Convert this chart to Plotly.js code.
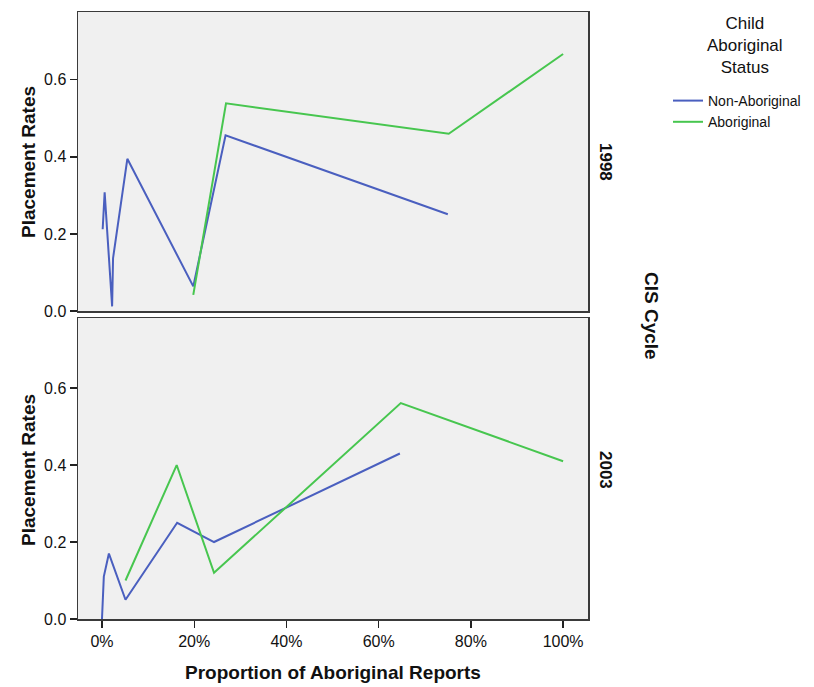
<!DOCTYPE html>
<html>
<head>
<meta charset="utf-8">
<script src="https://cdn.plot.ly/plotly-3.0.1.min.js"></script>
<style>html,body{margin:0;padding:0;background:#fff;}#chart{width:814px;height:687px;}</style>
</head>
<body>
<div id="chart"></div>
<script>
// Data (x in % of Aboriginal reports)
const seriesNames = ["Non-Aboriginal", "Aboriginal"];
const x1998NonAboriginal = [0.15, 0.58, 2.2, 2.4, 5.5, 19.8, 26.8, 75];
const y1998NonAboriginal = [0.212, 0.308, 0.012, 0.137, 0.395, 0.064, 0.456, 0.251];
const x1998Aboriginal = [19.8, 26.9, 75.2, 100];
const y1998Aboriginal = [0.042, 0.539, 0.46, 0.667];
const x2003NonAboriginal = [0, 0.4, 1.5, 5.1, 16.3, 24.3, 64.6];
const y2003NonAboriginal = [0, 0.11, 0.17, 0.05, 0.25, 0.20, 0.43];
const x2003Aboriginal = [5.1, 16.2, 24.3, 64.8, 100];
const y2003Aboriginal = [0.10, 0.40, 0.12, 0.561, 0.41];
const xTicks = [0, 20, 40, 60, 80, 100];
const yTicks = [0, 0.2, 0.4, 0.6];
const cycles = ["1998", "2003"];

const blue = "#4a5fbf";
const green = "#47c64f";
const W = 814, H = 687;
const px = v => v / W;
const py = v => 1 - v / H;

const traces = [
  {x: x1998NonAboriginal, y: y1998NonAboriginal, type: "scatter", mode: "lines", name: seriesNames[0], line: {color: blue, width: 2}, xaxis: "x", yaxis: "y", legendgroup: "n"},
  {x: x1998Aboriginal, y: y1998Aboriginal, type: "scatter", mode: "lines", name: seriesNames[1], line: {color: green, width: 2}, xaxis: "x", yaxis: "y", legendgroup: "a"},
  {x: x2003NonAboriginal, y: y2003NonAboriginal, type: "scatter", mode: "lines", name: seriesNames[0], line: {color: blue, width: 2}, xaxis: "x2", yaxis: "y2", showlegend: false, legendgroup: "n"},
  {x: x2003Aboriginal, y: y2003Aboriginal, type: "scatter", mode: "lines", name: seriesNames[1], line: {color: green, width: 2}, xaxis: "x2", yaxis: "y2", showlegend: false, legendgroup: "a"}
];

const FONT = "Liberation Sans, Arial, sans-serif";
const axisCommon = {
  showgrid: false, zeroline: false, showline: true, mirror: true,
  linecolor: "#3a3a3a", linewidth: 1.5, fixedrange: true
};
const xDomain = [px(78), px(588)];
const xRange = [-5.2, 105.4];
const tickStyle = {ticks: "outside", ticklen: 7, tickcolor: "#222", tickwidth: 1.3,
  tickfont: {family: FONT, size: 16, color: "#111"}};

function ann(text, x, y, size, angle, extra) {
  return Object.assign({text: text, xref: "paper", yref: "paper", x: px(x), y: py(y),
    xanchor: "center", yanchor: "middle", textangle: angle, showarrow: false,
    font: {family: FONT, size: size, color: "#111"}}, extra || {});
}

const layout = {
  width: W, height: H,
  margin: {l: 0, r: 0, t: 0, b: 0},
  paper_bgcolor: "#ffffff",
  plot_bgcolor: "#f0f0f0",
  font: {family: FONT, color: "#111", size: 15},
  showlegend: true,
  legend: {
    x: px(668), y: py(85), xanchor: "left", yanchor: "top",
    font: {family: FONT, size: 14, color: "#111"},
    bgcolor: "rgba(0,0,0,0)", tracegroupgap: 0, itemwidth: 30
  },
  xaxis: Object.assign({}, axisCommon, {domain: xDomain, range: xRange, anchor: "y", showticklabels: false, ticks: "", tickvals: xTicks}),
  yaxis: Object.assign({}, axisCommon, tickStyle, {domain: [py(311), py(12)], range: [0, 0.776], anchor: "x",
    tickvals: yTicks, ticktext: yTicks.map(v => v.toFixed(1))}),
  xaxis2: Object.assign({}, axisCommon, tickStyle, {domain: xDomain, range: xRange, anchor: "y2",
    tickvals: xTicks, ticktext: xTicks.map(v => v + "%")}),
  yaxis2: Object.assign({}, axisCommon, tickStyle, {domain: [py(619), py(318)], range: [0, 0.782], anchor: "x2",
    tickvals: yTicks, ticktext: yTicks.map(v => v.toFixed(1))}),
  annotations: [
    ann("<b>Placement Rates</b>", 28, 162, 19, -90),
    ann("<b>Placement Rates</b>", 28, 470, 19, -90),
    ann("<b>Proportion of Aboriginal Reports</b>", 333, 672, 19, 0),
    ann("<b>" + cycles[0] + "</b>", 606, 162, 17, 90),
    ann("<b>" + cycles[1] + "</b>", 606, 470, 17, 90),
    ann("<b>CIS Cycle</b>", 652, 316, 19, 90),
    ann("Child<br>Aboriginal<br>Status", 745, 46, 17, 0, {align: "center"})
  ]
};

Plotly.newPlot("chart", traces, layout, {displayModeBar: false, staticPlot: true});
</script>
</body>
</html>
